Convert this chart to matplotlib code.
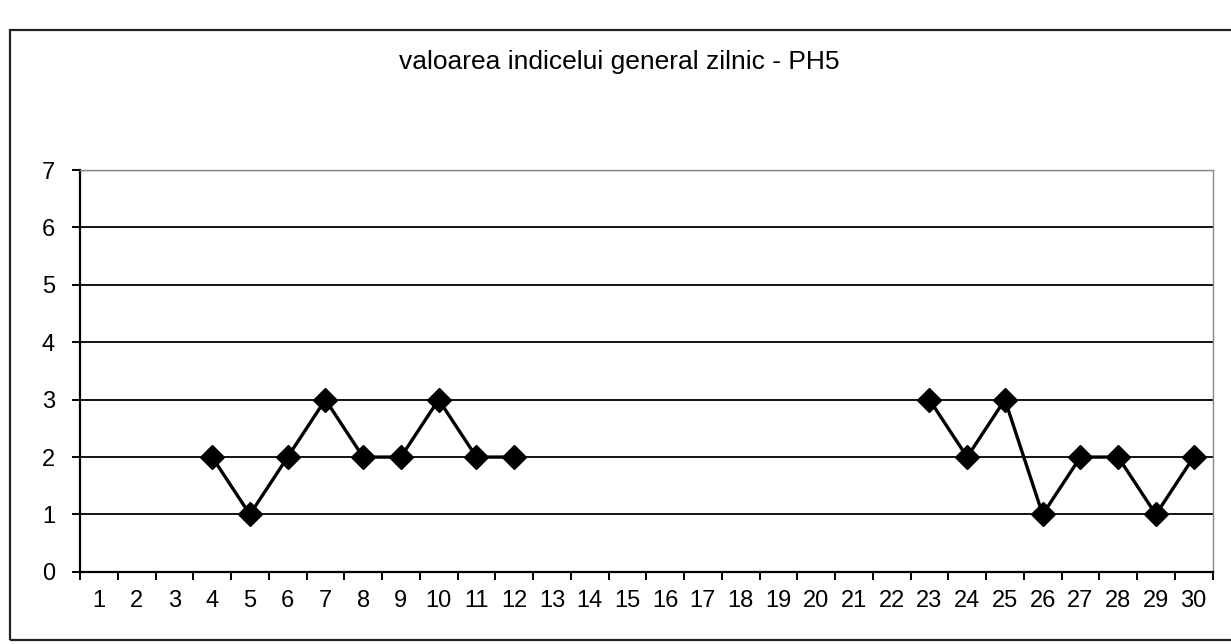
import numpy as np
import matplotlib.pyplot as plt
from matplotlib.patches import Rectangle

plt.rcParams['font.family'] = ['Liberation Sans', 'DejaVu Sans']

# zile (1-30) si valoarea indicelui; lipsa = nan
zile = np.arange(1, 31)
valori = [np.nan, np.nan, np.nan, 2, 1, 2, 3, 2, 2, 3, 2, 2,
          np.nan, np.nan, np.nan, np.nan, np.nan, np.nan, np.nan, np.nan, np.nan, np.nan,
          3, 2, 3, 1, 2, 2, 1, 2]
titlu = 'valoarea indicelui general zilnic - PH5'

fig = plt.figure(figsize=(12.31, 6.44), dpi=100)
ax = fig.add_axes([0.065, 0.112, 0.92, 0.624])

# chenarul exterior al graficului
fig.patches.append(Rectangle((0.008, 0.006), 1.1, 0.948, transform=fig.transFigure,
                             fill=False, edgecolor='#222222', linewidth=1.6))

ax.plot(zile, valori, color='black', linewidth=2.4, marker='D', markersize=12)

ax.set_xlim(0.5, 30.5)
ax.set_ylim(0, 7)
ax.set_yticks(range(0, 8))
ax.set_xticks(np.arange(0.5, 31, 1))
ax.set_xticklabels([])
ax.set_xticks(zile, minor=True)
ax.set_xticklabels([str(z) for z in zile], minor=True)
ax.tick_params(axis='x', which='minor', length=0, pad=13, labelsize=17)
ax.tick_params(axis='x', which='major', length=6, width=1.4, direction='out')
ax.tick_params(axis='y', length=6, width=1.4, labelsize=17, pad=12)

ax.grid(axis='y', color='black', linewidth=1.3)
ax.axhline(7, color='#888888', linewidth=1)
ax.set_axisbelow(True)

for s in ['top', 'right']:
    ax.spines[s].set_color('#888888')
    ax.spines[s].set_linewidth(1)
for s in ['left', 'bottom']:
    ax.spines[s].set_linewidth(1.6)

fig.text(0.503, 0.903, titlu, ha='center', va='center', fontsize=19)

fig.savefig('out.png', dpi=100)
